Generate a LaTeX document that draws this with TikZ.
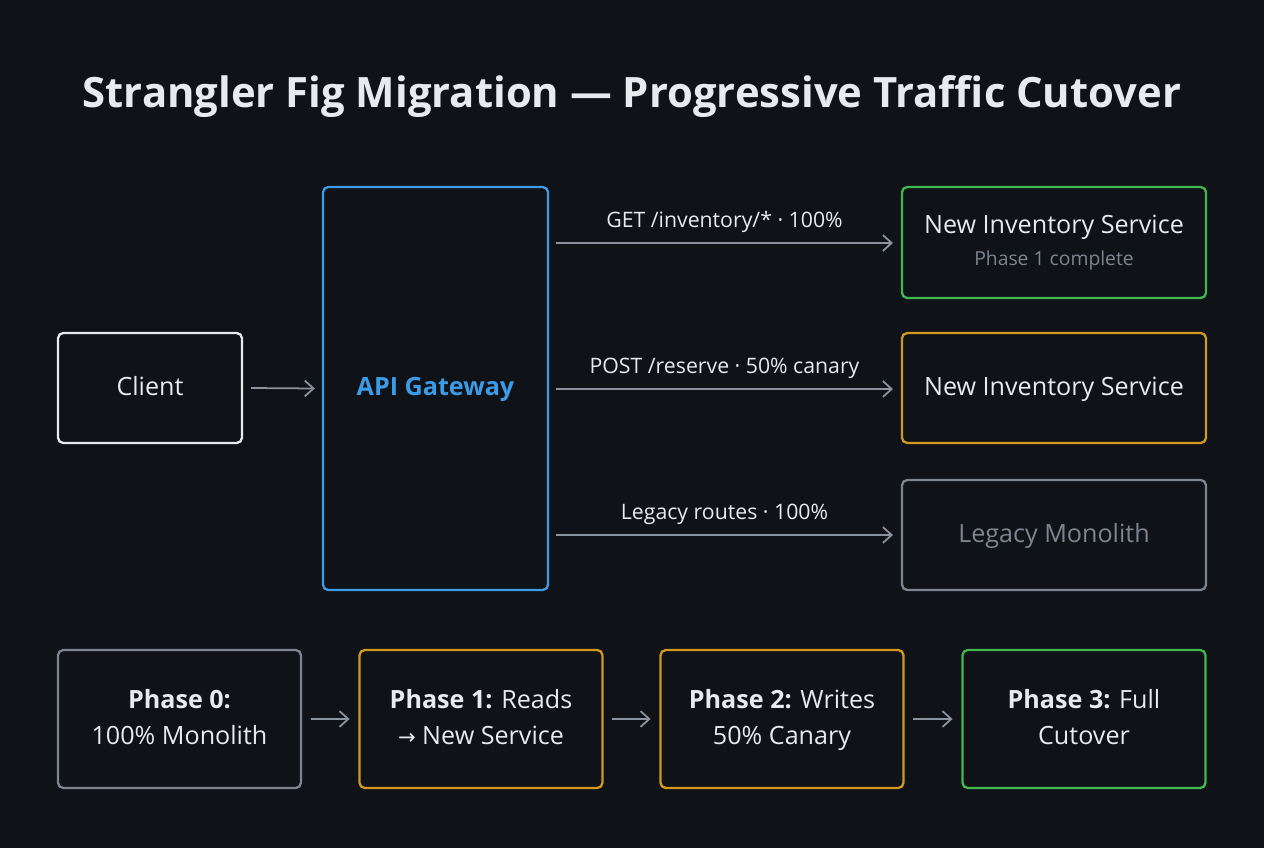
\documentclass[tikz,border=0pt]{standalone}
\usepackage{fontspec}
\setmainfont{Open Sans}
\newfontfamily\arrfont{DejaVu Sans}
\usetikzlibrary{arrows.meta}
\definecolor{bg}{HTML}{0F1216}
\definecolor{cwhite}{HTML}{E8EAED}
\definecolor{cblue}{HTML}{3B9BE8}
\definecolor{cgreen}{HTML}{3FB950}
\definecolor{corange}{HTML}{D29922}
\definecolor{cgray}{HTML}{7D8590}
\definecolor{carrow}{HTML}{8B949E}
\begin{document}
\begin{tikzpicture}[x=0.02cm,y=-0.02cm,
  box/.style={draw,line width=1.3pt,rounded corners=3pt,text=cwhite,align=center,font=\fontsize{14.3}{20.5}\selectfont,inner sep=0pt,text depth=0.25em},
  arr/.style={draw=carrow,line width=1pt,-{Straight Barb[length=5pt,width=9pt]}},
  lab/.style={text=cwhite,font=\fontsize{12.1}{14}\selectfont}]
\fill[bg] (0,0) rectangle (1264,848);
\useasboundingbox (0,0) rectangle (1264,848);
\node[text=cwhite,font=\fontsize{23.8}{28}\bfseries\selectfont] (title) at (632,97) {Strangler Fig Migration — Progressive Traffic Cutover};
\node[box,draw=cwhite,minimum width=184*0.02cm,minimum height=110*0.02cm] (client) at (150,388) {Client};
\node[box,draw=cblue,text=cblue,font=\fontsize{14.3}{17}\bfseries\selectfont,minimum width=225*0.02cm,minimum height=403*0.02cm] (gw) at (435.5,388.5) {API Gateway};
\node[box,draw=cgreen,minimum width=304*0.02cm,minimum height=111*0.02cm] (inv1) at (1054,242.5) {New Inventory Service\\[-2pt]{\color{cgray}\fontsize{11}{13}\selectfont Phase 1 complete}};
\node[box,draw=corange,minimum width=304*0.02cm,minimum height=110*0.02cm] (inv2) at (1054,388) {New Inventory Service};
\node[box,draw=cgray,text=cgray,minimum width=304*0.02cm,minimum height=110*0.02cm] (mono) at (1054,535) {Legacy Monolith};
\coordinate (g1) at (556,243); \coordinate (g2) at (556,389); \coordinate (g3) at (556,535);
\coordinate (t1) at (893,243); \coordinate (t2) at (893,389); \coordinate (t3) at (893,535);
\draw[arr] (g1) -- node[lab,above=2pt]{GET /inventory/* · 100\%} (t1);
\draw[arr] (g2) -- node[lab,above=2pt]{POST /reserve · 50\% canary} (t2);
\draw[arr] (g3) -- node[lab,above=2pt]{Legacy routes · 100\%} (t3);
\draw[arr] ([xshift=4.5pt]client.east) -- ([xshift=-4pt]gw.west);
\begin{scope}[every node/.style={box,minimum width=243*0.02cm,minimum height=138*0.02cm}]
\node[draw=cgray] (p0) at (179.5,719) {\textbf{Phase 0:}\\100\% Monolith};
\node[draw=corange] (p1) at (481,719) {\textbf{Phase 1:} Reads\\{\arrfont\fontsize{12}{20.5}\selectfont →} New Service};
\node[draw=corange] (p2) at (782,719) {\textbf{Phase 2:} Writes\\50\% Canary};
\node[draw=cgreen] (p3) at (1084,719) {\textbf{Phase 3:} Full\\Cutover};
\end{scope}
\draw[arr] ([xshift=5pt]p0.east) -- ([xshift=-5pt]p1.west);
\draw[arr] ([xshift=5pt]p1.east) -- ([xshift=-5pt]p2.west);
\draw[arr] ([xshift=5pt]p2.east) -- ([xshift=-5pt]p3.west);
\end{tikzpicture}
\end{document}
